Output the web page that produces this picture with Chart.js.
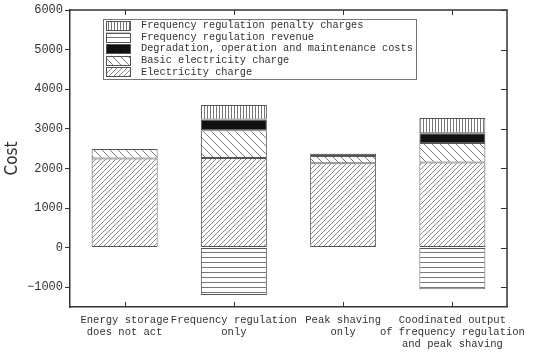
<!DOCTYPE html>
<html>
<head>
<meta charset="utf-8">
<script src="https://cdn.jsdelivr.net/npm/chart.js@4.4.1/dist/chart.umd.min.js"></script>
<style>
  html, body { margin: 0; padding: 0; background: #fff; }
  #wrap { width: 550px; height: 353px; position: relative; }
</style>
</head>
<body>
<div id="wrap"><canvas id="grafico"></canvas></div>
<script>
// categorias e valores
const categorias = [
  ['Energy storage', 'does not act'],
  ['Frequency regulation', 'only'],
  ['Peak shaving', 'only'],
  ['Coodinated output', 'of frequency regulation', 'and peak shaving']
];
const electricityCharge = [2250, 2265, 2130, 2150];
const basicCharge = [240, 700, 180, 490];
const degradationCosts = [0, 270, 60, 245];
const penaltyCharges = [0, 365, 0, 385];
const regulationRevenue = [0, -1200, 0, -1050];
const yTicks = [-1000, 0, 1000, 2000, 3000, 4000, 5000, 6000];

const fonteMono = '"Liberation Mono", "DejaVu Sans Mono", monospace';

// padrões de hachura
function criarPadrao(tipo) {
  const c = document.createElement('canvas');
  const ctx = c.getContext('2d');
  let s = 6;
  if (tipo === 'diag') s = 5;
  if (tipo === 'anti') s = 8;
  if (tipo === 'vert') s = 3;
  if (tipo === 'horiz') s = 5;
  c.width = s; c.height = s;
  ctx.fillStyle = '#fff';
  ctx.fillRect(0, 0, s, s);
  if (tipo === 'solid') {
    ctx.fillStyle = '#111';
    ctx.fillRect(0, 0, s, s);
    return ctx.createPattern(c, 'repeat');
  }
  ctx.lineWidth = 1;
  ctx.strokeStyle = tipo === 'diag' ? '#8a8a8a' : '#777';
  ctx.beginPath();
  if (tipo === 'diag') {
    ctx.moveTo(0, s); ctx.lineTo(s, 0);
    ctx.moveTo(-1, 1); ctx.lineTo(1, -1);
    ctx.moveTo(s - 1, s + 1); ctx.lineTo(s + 1, s - 1);
  } else if (tipo === 'anti') {
    ctx.moveTo(0, 0); ctx.lineTo(s, s);
    ctx.moveTo(s - 1, -1); ctx.lineTo(s + 1, 1);
    ctx.moveTo(-1, s - 1); ctx.lineTo(1, s + 1);
  } else if (tipo === 'vert') {
    ctx.moveTo(0.5, 0); ctx.lineTo(0.5, s);
  } else if (tipo === 'horiz') {
    ctx.moveTo(0, 2.5); ctx.lineTo(s, 2.5);
  }
  ctx.stroke();
  return ctx.createPattern(c, 'repeat');
}

const borda = '#555';
function serie(label, data, tipo) {
  return {
    label: label,
    data: data,
    backgroundColor: criarPadrao(tipo),
    borderColor: borda,
    borderWidth: 1,
    borderSkipped: false,
    stack: 'custo'
  };
}

const datasets = [
  serie('Electricity charge', electricityCharge, 'diag'),
  serie('Basic electricity charge', basicCharge, 'anti'),
  serie('Degradation, operation and maintenance costs', degradationCosts, 'solid'),
  serie('Frequency regulation penalty charges', penaltyCharges, 'vert'),
  serie('Frequency regulation revenue', regulationRevenue, 'horiz')
];

// ordem da legenda como na figura
const ordemLegenda = [3, 4, 2, 1, 0];

const molduraPlugin = {
  id: 'moldura',
  afterDraw(chart) {
    const { ctx, chartArea: a, scales } = chart;
    ctx.save();
    ctx.strokeStyle = '#333';
    ctx.lineWidth = 1.5;
    ctx.beginPath();
    ctx.moveTo(a.left, a.top); ctx.lineTo(a.right, a.top); ctx.lineTo(a.right, a.bottom);
    ctx.stroke();
    // marcas internas
    ctx.lineWidth = 1;
    ctx.beginPath();
    yTicks.forEach(v => {
      const y = Math.round(scales.y.getPixelForValue(v)) + 0.5;
      ctx.moveTo(a.right, y); ctx.lineTo(a.right - 6, y);
    });
    categorias.forEach((c, i) => {
      const x = Math.round(scales.x.getPixelForValue(i)) + 0.5;
      ctx.moveTo(x, a.bottom); ctx.lineTo(x, a.bottom - 5);
      ctx.moveTo(x, a.top); ctx.lineTo(x, a.top + 5);
    });
    ctx.stroke();

    // legenda
    const lx = a.left + 33, ly = a.top + 9, lw = 313, lh = 60;
    ctx.fillStyle = '#fff';
    ctx.fillRect(lx, ly, lw, lh);
    ctx.strokeStyle = '#777';
    ctx.strokeRect(lx + 0.5, ly + 0.5, lw, lh);
    ctx.font = '10.3px ' + fonteMono;
    ctx.textBaseline = 'middle';
    ordemLegenda.forEach((idx, r) => {
      const ds = chart.data.datasets[idx];
      const cy = ly + 6.5 + r * 11.6;
      ctx.fillStyle = ds.backgroundColor;
      ctx.fillRect(lx + 3, cy - 4.5, 24, 9);
      ctx.strokeStyle = '#555';
      ctx.strokeRect(lx + 3.5, Math.round(cy - 4.5) + 0.5, 24, 9);
      ctx.fillStyle = '#333';
      ctx.fillText(ds.label, lx + 38, cy);
    });
    ctx.restore();
  }
};

new Chart(document.getElementById('grafico').getContext('2d'), {
  type: 'bar',
  data: { labels: categorias, datasets: datasets },
  options: {
    responsive: true,
    maintainAspectRatio: false,
    animation: false,
    layout: { padding: { top: 10, right: 43, left: 0, bottom: 0 } },
    scales: {
      x: {
        stacked: true,
        grid: { display: false, drawTicks: false },
        border: { display: true, color: '#333', width: 1.5 },
        ticks: {
          color: '#333',
          padding: 7,
          maxRotation: 0,
          autoSkip: false,
          font: { family: fonteMono, size: 10.5, lineHeight: 1.14 }
        },
        afterFit(scale) { scale.height = 46; }
      },
      y: {
        stacked: true,
        min: -1500,
        max: 6000,
        afterBuildTicks(scale) { scale.ticks = yTicks.map(v => ({ value: v })); },
        grid: { drawOnChartArea: false, drawTicks: true, tickLength: 5, color: '#333' },
        border: { display: true, color: '#333', width: 1.5 },
        ticks: {
          color: '#333',
          padding: 2,
          font: { family: fonteMono, size: 12 },
          callback: v => (v < 0 ? '\u2212' + Math.abs(v) : String(v))
        },
        title: {
          display: true,
          text: 'Cost',
          color: '#333',
          padding: { top: 2, bottom: 4 },
          font: { family: '"DejaVu Sans Condensed", "DejaVu Sans", sans-serif', size: 17 }
        },
        afterFit(scale) { scale.width = 70; }
      }
    },
    datasets: {
      bar: { categoryPercentage: 0.604, barPercentage: 1 }
    },
    plugins: {
      legend: { display: false },
      tooltip: { enabled: false }
    }
  },
  plugins: [molduraPlugin]
});
</script>
</body>
</html>
